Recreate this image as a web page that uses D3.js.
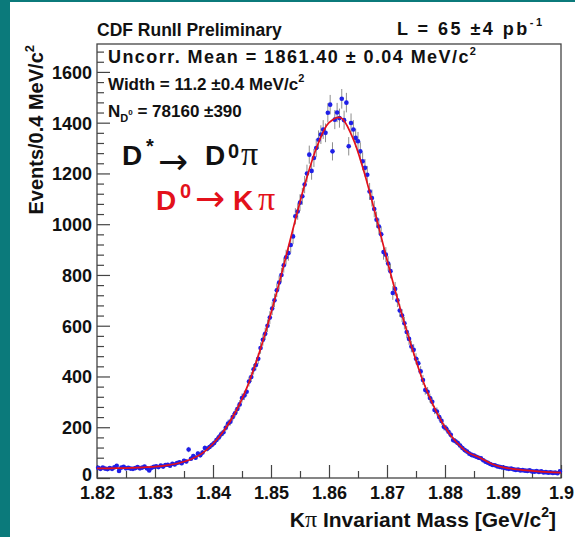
<!DOCTYPE html>
<html><head><meta charset="utf-8">
<script src="https://cdn.jsdelivr.net/npm/d3@7"></script>
<style>
html,body{margin:0;padding:0;background:#fff;}
svg{display:block;}
text{font-family:"Liberation Sans",Arial,Helvetica,sans-serif;font-weight:bold;fill:#111;}
</style></head><body>
<svg id="chart" width="575" height="537"></svg>
<script>
// K-pi invariant mass spectrum, 0.4 MeV bins from 1.82 to 1.90 GeV
const binLow = 1.82;
const binWidth = 0.0004;
const counts = [
  40, 36, 41, 37, 35,   39, 36, 42, 48, 28,   41, 44, 38, 40, 37,   36, 39, 43, 38, 41,
  45, 38, 30, 40, 44,   46, 43, 49, 45, 51,   52, 48, 56, 53, 59,   62, 58, 68, 65, 112,
  76, 86, 80, 96, 90,   100, 118, 115, 122, 130,   138, 150, 160, 172, 180,   198, 215, 222, 240, 255,
  272, 290, 315, 325, 340,   380, 398, 428, 445, 470,   512, 545, 568, 600, 632,   668, 700, 740, 770, 800,
  838, 870, 886, 918, 952,   1031, 1050, 1085, 1110, 1156,   1200, 1274, 1210, 1261, 1300,   1333, 1353, 1373, 1360, 1439,
  1471, 1287, 1412, 1440, 1418,   1494, 1410, 1479, 1307, 1399,   1373, 1340, 1327, 1287, 1248,   1222, 1195, 1129, 1103, 1060,
  1018, 991, 960, 890, 880,   845, 815, 729, 745, 700,   660, 640, 610, 575, 548,   518, 505, 470, 452, 420,
  386, 347, 340, 315, 300,   268, 262, 240, 225, 202,   195, 182, 170, 150, 145,   138, 128, 118, 110, 104,
  96, 91, 88, 84, 80,   78, 70, 64, 60, 55,   51, 50, 46, 44, 42,   40, 38, 36, 37, 34,
  32, 33, 30, 31, 29,   28, 30, 26, 25, 27,   24, 26, 22, 23, 21,   22, 20, 21, 19, 26
];

// fitted signal + background shape, sampled every 2 MeV
const fitStart = 1.82;
const fitStep = 0.002;
const fitValues = [
  38, 38, 39, 40, 42, 45, 50, 58, 72, 95,
  135, 190, 265, 365, 495, 650, 820, 1000, 1170, 1310,
  1400, 1420, 1345, 1210, 1040, 860, 690, 535, 395, 285,
  200, 140, 100, 80, 56, 42, 35, 30, 26, 23, 21
];

const xTickValues = [1.82, 1.83, 1.84, 1.85, 1.86, 1.87, 1.88, 1.89, 1.90];
const xTickLabels = ["1.82", "1.83", "1.84", "1.85", "1.86", "1.87", "1.88", "1.89", "1.9"];
const xMinorTicks = [1.825, 1.835, 1.845, 1.855, 1.865, 1.875, 1.885, 1.895];
const yTickValues = [0, 200, 400, 600, 800, 1000, 1200, 1400, 1600];
const yTickLabels = ["0", "200", "400", "600", "800", "1000", "1200", "1400", "1600"];

const svg = d3.select("#chart");
const W = 575, H = 537;
const plot = {left: 97, right: 561, top: 44, bottom: 478};

svg.append("rect").attr("width", W).attr("height", H).attr("fill", "#fff");
// slide border
svg.append("rect").attr("x", 0).attr("y", 0).attr("width", 10).attr("height", H).attr("fill", "#0b7a7b");
svg.append("rect").attr("x", 0).attr("y", 0).attr("width", W).attr("height", 2).attr("fill", "#0b7a7b");

const x = d3.scaleLinear().domain([1.82, 1.90]).range([plot.left, plot.right]);
const y = d3.scaleLinear().domain([0, 1710]).range([plot.bottom, plot.top]);

const axisColor = "#444";
const labelFont = "'Liberation Sans',Arial,sans-serif";

// x axis (ticks point into the frame)
const gx = svg.append("g").attr("transform", `translate(0,${plot.bottom})`)
  .call(d3.axisBottom(x).tickValues(xTickValues).tickSize(-13).tickPadding(0)
    .tickFormat((d, i) => xTickLabels[i]));
gx.select(".domain").remove();
gx.selectAll(".tick line").attr("stroke", axisColor).attr("stroke-width", 1.2);
gx.selectAll(".tick text").attr("y", 21).attr("dy", 0)
  .style("font-size", "18px").style("font-family", labelFont)
  .style("font-weight", "bold").attr("fill", "#111");
const gxm = svg.append("g").attr("transform", `translate(0,${plot.bottom})`)
  .call(d3.axisBottom(x).tickValues(xMinorTicks).tickSize(-7).tickFormat(""));
gxm.select(".domain").remove();
gxm.selectAll(".tick line").attr("stroke", axisColor).attr("stroke-width", 1.2);

// y axis
const yMinorTicks = d3.range(0, 1710, 40).filter(v => v % 200 !== 0);
const gy = svg.append("g").attr("transform", `translate(${plot.left},0)`)
  .call(d3.axisLeft(y).tickValues(yTickValues).tickSize(-13).tickPadding(5)
    .tickFormat((d, i) => yTickLabels[i]));
gy.select(".domain").remove();
gy.selectAll(".tick line").attr("stroke", axisColor).attr("stroke-width", 1.2);
gy.selectAll(".tick text").attr("dy", "0.36em")
  .style("font-size", "18px").style("font-family", labelFont)
  .style("font-weight", "bold").attr("fill", "#111");
// the zero label sits just above the x labels
gy.selectAll(".tick text").filter(d => d === 0).attr("dy", "0.15em");
const gym = svg.append("g").attr("transform", `translate(${plot.left},0)`)
  .call(d3.axisLeft(y).tickValues(yMinorTicks).tickSize(-7).tickFormat(""));
gym.select(".domain").remove();
gym.selectAll(".tick line").attr("stroke", axisColor).attr("stroke-width", 1.2);

// frame
svg.append("rect").attr("x", plot.left).attr("y", plot.top)
  .attr("width", plot.right - plot.left).attr("height", plot.bottom - plot.top)
  .attr("fill", "none").attr("stroke", axisColor).attr("stroke-width", 1.3);

// data
const bins = counts.map((c, i) => ({m: binLow + binWidth * (i + 0.5), c}));
const gData = svg.append("g");
gData.selectAll("line.err").data(bins).join("line").attr("class", "err")
  .attr("x1", d => x(d.m)).attr("x2", d => x(d.m))
  .attr("y1", d => y(d.c - Math.sqrt(d.c))).attr("y2", d => y(d.c + Math.sqrt(d.c)))
  .attr("stroke", "#8c8c8c").attr("stroke-width", 1);
gData.selectAll("circle").data(bins).join("circle")
  .attr("cx", d => x(d.m)).attr("cy", d => y(d.c)).attr("r", 2.3)
  .attr("fill", "#1f1fe8");

// fit curve
const fitPts = fitValues.map((v, i) => [fitStart + fitStep * i, v]);
svg.append("path").datum(fitPts)
  .attr("d", d3.line().x(d => x(d[0])).y(d => y(d[1])).curve(d3.curveCatmullRom.alpha(0.5)))
  .attr("fill", "none").attr("stroke", "#e3111b").attr("stroke-width", 1.7);

// header
svg.append("text").attr("x", 97).attr("y", 36).style("font-size", "17.5px").text("CDF RunII Preliminary");
const lum = svg.append("text").attr("x", 397).attr("y", 35).style("font-size", "18px")
  .attr("textLength", 145).attr("lengthAdjust", "spacing");
lum.append("tspan").text("L = 65 \u00b14 pb");
lum.append("tspan").attr("dy", -9).style("font-size", "11px").text("-1");

// fit results
const t1 = svg.append("text").attr("x", 108).attr("y", 63).style("font-size", "18px")
  .attr("textLength", 368).attr("lengthAdjust", "spacing");
t1.append("tspan").text("Uncorr. Mean = 1861.40 \u00b1 0.04 MeV/c");
t1.append("tspan").attr("dy", -8).style("font-size", "11px").text("2");

const t2 = svg.append("text").attr("x", 108).attr("y", 90).style("font-size", "17px");
t2.append("tspan").text("Width = 11.2 \u00b10.4 MeV/c");
t2.append("tspan").attr("dy", -8).style("font-size", "11px").text("2");

const t3 = svg.append("text").attr("x", 108).attr("y", 117).style("font-size", "17px");
t3.append("tspan").text("N");
t3.append("tspan").attr("dy", 5).style("font-size", "11px").text("D");
t3.append("tspan").attr("dy", -7).style("font-size", "8px").text("0");
t3.append("tspan").attr("dy", 2).text(" = 78160 \u00b1390");

// decay chain labels
function piece(txt, px, py, size, color, opts = {}) {
  const t = svg.append("text").attr("x", px).attr("y", py)
    .style("font-size", size + "px").attr("fill", color).style("fill", color).text(txt);
  if (opts.normal) t.style("font-weight", "normal");
  if (opts.serif) t.style("font-family", "'Liberation Serif','DejaVu Serif',serif");
  if (opts.sans) t.style("font-family", "'DejaVu Sans',sans-serif");
  return t;
}
const black = "#111", red = "#e3111b";
piece("D", 122, 165, 28, black);
piece("*", 146, 153, 20, black);
piece("\u2192", 158, 174, 36, black, {normal: true, sans: true});
piece("D", 205, 165, 28, black);
piece("0", 228, 158, 20, black);
piece("\u03c0", 241, 165, 34, black, {normal: true, serif: true});

piece("D", 156, 210, 28, red);
piece("0", 180, 198, 20, red);
piece("\u2192", 195, 211, 36, red, {normal: true, sans: true});
piece("K", 233, 210, 28, red);
piece("\u03c0", 258, 210, 34, red, {normal: true, serif: true});

// axis titles
const yt = svg.append("text").attr("transform", "translate(43,45) rotate(-90)")
  .attr("text-anchor", "end").style("font-size", "20px");
yt.append("tspan").text("Events/0.4 MeV/c");
yt.append("tspan").attr("dy", -9).style("font-size", "13px").text("2");

const xt = svg.append("text").attr("x", 556).attr("y", 527).attr("text-anchor", "end").style("font-size", "21px");
xt.append("tspan").text("K");
xt.append("tspan").style("font-family", "'Liberation Serif','DejaVu Serif',serif").style("font-weight", "normal")
  .style("font-size", "24px").text("\u03c0");
xt.append("tspan").text(" Invariant Mass [GeV/c");
xt.append("tspan").attr("dy", -10).style("font-size", "14px").text("2");
xt.append("tspan").attr("dy", 10).text("]");
</script>
</body></html>
